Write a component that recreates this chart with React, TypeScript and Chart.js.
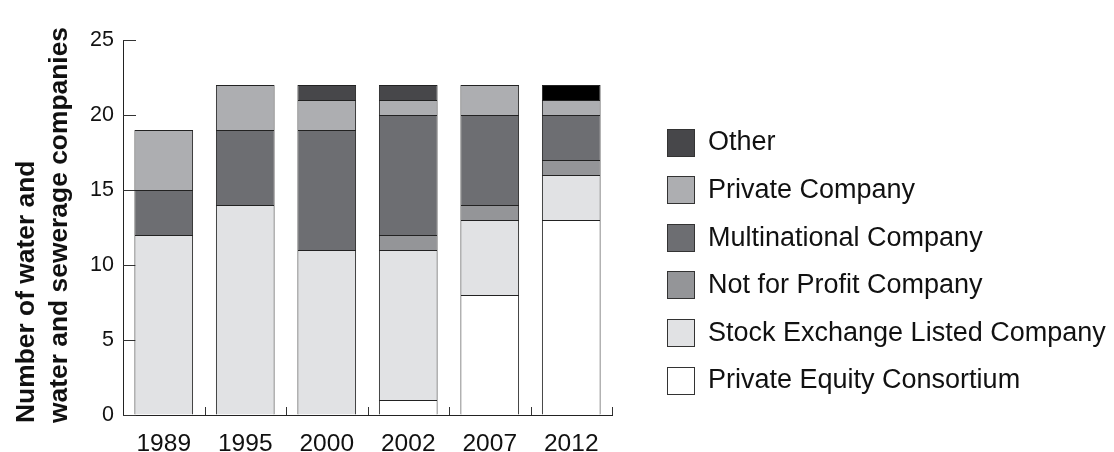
import React, { useEffect, useRef } from "react";
import { Chart, registerables } from "chart.js";

Chart.register(...registerables);

const categories = ["1989", "1995", "2000", "2002", "2007", "2012"];
const privateEquity = [0, 0, 0, 1, 8, 13];
const stockExchange = [12, 14, 11, 10, 5, 3];
const notForProfit = [0, 0, 0, 1, 1, 1];
const multinational = [3, 5, 8, 8, 6, 3];
const privateCompany = [4, 3, 2, 1, 2, 1];
const other = [0, 0, 1, 1, 0, 1];
const yTickValues = [0, 5, 10, 15, 20, 25];
const seriesLabels = [
  "Private Equity Consortium",
  "Stock Exchange Listed Company",
  "Not for Profit Company",
  "Multinational Company",
  "Private Company",
  "Other",
];
const yTitle = ["Number of water and", "water and sewerage companies"];

const FONT = '"Liberation Sans", Arial, Helvetica, sans-serif';
const BORDER = "#222222";

const colors = {
  pec: "#ffffff",
  selc: "#e1e2e4",
  nfp: "#949598",
  multi: "#6d6e72",
  priv: "#adaeb1",
  other: "#47474a",
  otherLast: "#000000",
};

const inwardTicksPlugin = {
  id: "inwardTicks",
  beforeDatasetsDraw(chart: any) {
    const ctx = chart.ctx;
    const y = chart.scales.y;
    const x = chart.scales.x;
    const area = chart.chartArea;
    ctx.save();
    ctx.strokeStyle = "#333333";
    ctx.lineWidth = 1;
    ctx.beginPath();
    yTickValues.forEach((v) => {
      const py = Math.round(y.getPixelForValue(v)) + 0.5;
      ctx.moveTo(area.left, py);
      ctx.lineTo(area.left + 13, py);
    });
    const n = categories.length;
    for (let i = 0; i < n; i++) {
      let px;
      if (i < n - 1) {
        px = (x.getPixelForValue(i) + x.getPixelForValue(i + 1)) / 2;
      } else {
        px = area.right;
      }
      px = Math.round(px) + 0.5;
      ctx.moveTo(px, area.bottom);
      ctx.lineTo(px, area.bottom - 8);
    }
    ctx.stroke();
    ctx.restore();
  },
};

const yTitlePlugin = {
  id: "yTitleText",
  afterDraw(chart: any) {
    const ctx = chart.ctx;
    const area = chart.chartArea;
    const baselines = [33.5, 67];
    ctx.save();
    ctx.font = "bold 26.4px " + FONT;
    ctx.fillStyle = "#111111";
    ctx.textAlign = "left";
    ctx.textBaseline = "alphabetic";
    yTitle.forEach((line, i) => {
      ctx.save();
      ctx.translate(baselines[i], area.bottom + 8);
      ctx.rotate(-Math.PI / 2);
      ctx.fillText(line, 0, 0);
      ctx.restore();
    });
    ctx.restore();
  },
};

const sideLegendPlugin = {
  id: "sideLegend",
  afterDraw(chart: any) {
    const ctx = chart.ctx;
    const ds = chart.data.datasets.slice().reverse();
    const boxLeft = 667.5;
    const box = 27;
    const firstCenter = 142;
    const step = 47.6;
    ctx.save();
    ctx.font = "27px " + FONT;
    ctx.textBaseline = "middle";
    ctx.textAlign = "left";
    ds.forEach((d: any, i: number) => {
      const cy = firstCenter + i * step;
      const top = Math.round(cy - box / 2) + 0.5;
      const bg = Array.isArray(d.backgroundColor) ? d.backgroundColor[0] : d.backgroundColor;
      ctx.fillStyle = bg;
      ctx.fillRect(boxLeft, top, box, box);
      ctx.strokeStyle = "#333333";
      ctx.lineWidth = 1;
      ctx.strokeRect(boxLeft, top, box, box);
      ctx.fillStyle = "#111111";
      ctx.fillText(d.label, 708, cy + 1);
    });
    ctx.restore();
  },
};

export default function App() {
  const canvasRef = useRef<HTMLCanvasElement | null>(null);

  useEffect(() => {
    if (!canvasRef.current) return;
    const mk = (label: string, data: number[], color: any) => ({
      label,
      data,
      backgroundColor: color,
      borderColor: BORDER,
      borderWidth: 1,
      borderSkipped: "start" as const,
      barPercentage: 0.72,
      categoryPercentage: 1,
    });
    const otherColors = categories.map((_, i) =>
      i === categories.length - 1 ? colors.otherLast : colors.other
    );
    const chart = new Chart(canvasRef.current, {
      type: "bar",
      data: {
        labels: categories,
        datasets: [
          mk(seriesLabels[0], privateEquity, colors.pec),
          mk(seriesLabels[1], stockExchange, colors.selc),
          mk(seriesLabels[2], notForProfit, colors.nfp),
          mk(seriesLabels[3], multinational, colors.multi),
          mk(seriesLabels[4], privateCompany, colors.priv),
          mk(seriesLabels[5], other, otherColors),
        ],
      },
      options: {
        animation: false,
        responsive: false,
        layout: { padding: { left: 0, top: 40, right: 502, bottom: 0 } },
        plugins: {
          legend: { display: false },
          tooltip: { enabled: false },
          title: { display: false },
        },
        scales: {
          x: {
            stacked: true,
            grid: { display: true, drawOnChartArea: false, drawTicks: false },
            border: { display: true, color: BORDER, width: 1 },
            ticks: {
              color: "#111111",
              font: { family: FONT, size: 24.5 },
              padding: 15,
              maxRotation: 0,
              autoSkip: false,
            },
            afterFit: (s: any) => {
              s.height = 37;
            },
          },
          y: {
            stacked: true,
            min: 0,
            max: 25,
            grid: { display: true, drawOnChartArea: false, drawTicks: false },
            border: { display: true, color: BORDER, width: 1 },
            ticks: {
              stepSize: 5,
              color: "#111111",
              font: { family: FONT, size: 21.5 },
              padding: 9,
            },
            title: { display: false },
            afterFit: (s: any) => {
              s.width = 123;
            },
          },
        },
      },
      plugins: [inwardTicksPlugin, yTitlePlugin, sideLegendPlugin],
    });
    return () => chart.destroy();
  }, []);

  return (
    <div style={{ position: "absolute", left: 0, top: 0, width: 1114, height: 452, background: "#ffffff" }}>
      <canvas ref={canvasRef} width={1114} height={452} style={{ display: "block" }} />
    </div>
  );
}
